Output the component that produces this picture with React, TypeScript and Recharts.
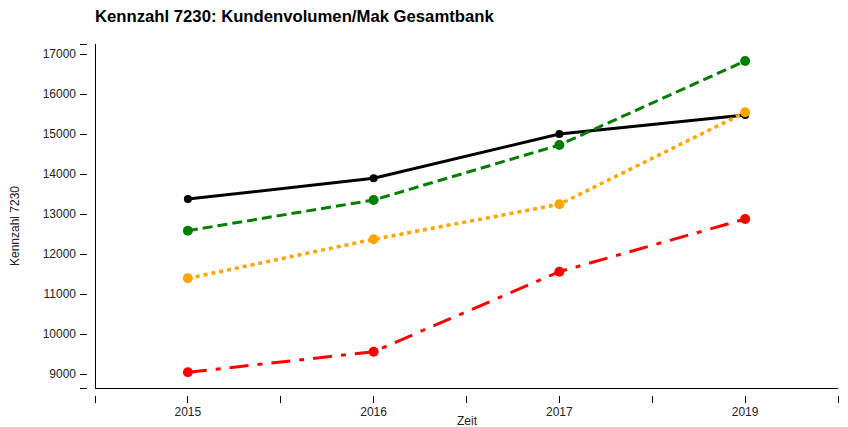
import { LineChart, Line, XAxis, YAxis } from 'recharts';

const years = ['2015', '2016', '2017', '2019'];
const gesamt = [13375, 13892, 15000, 15475];
const gruen = [12583, 13350, 14725, 16825];
const orange = [11392, 12367, 13242, 15542];
const rot = [9042, 9558, 11558, 12875];
const yTicks = [8650, 9000, 10000, 11000, 12000, 13000, 14000, 15000, 16000, 17000, 17250];

const data = years.map((y, i) => ({
    jahr: y,
    gesamt: gesamt[i],
    gruen: gruen[i],
    orange: orange[i],
    rot: rot[i],
}));

const W = 840;
const H = 419;
const LEFT = 87;
const RIGHT = 10;
const HALF_BAND = (W - LEFT - RIGHT) / years.length / 2;
const FONT = 'Arial, "Liberation Sans", sans-serif';

function XTick(props: any) {
    const { x, y, payload, index } = props;
    const last = index === years.length - 1;
    return (
        <g shapeRendering="crispEdges">
            <line x1={x - HALF_BAND} x2={x - HALF_BAND} y1={y} y2={y + 7} stroke="#000" />
            <line x1={x} x2={x} y1={y} y2={y + 7} stroke="#000" />
            {last && <line x1={x + HALF_BAND} x2={x + HALF_BAND} y1={y} y2={y + 7} stroke="#000" />}
            <text x={x} y={y + 20} textAnchor="middle" fontSize={12} fontFamily={FONT} fill="#222">
                {payload.value}
            </text>
        </g>
    );
}

function YTick(props: any) {
    const { x, y, payload } = props;
    const show = payload.value % 1000 === 0;
    return (
        <g shapeRendering="crispEdges">
            <line x1={x - 7} x2={x} y1={y} y2={y} stroke="#000" />
            {show && (
                <text x={x - 11} y={y} dy="0.35em" textAnchor="end" fontSize={12} fontFamily={FONT} fill="#222">
                    {payload.value}
                </text>
            )}
        </g>
    );
}

export default function App() {
    return (
        <div style={{ position: 'relative', width: W, height: H, fontFamily: FONT }}>
            <LineChart width={W} height={H} data={data} margin={{ top: 36, right: RIGHT, bottom: 0, left: 0 }}>
                <XAxis
                    dataKey="jahr"
                    height={39}
                    padding={{ left: HALF_BAND, right: HALF_BAND }}
                    axisLine={{ stroke: '#000', shapeRendering: 'crispEdges' }}
                    tickLine={false}
                    tick={<XTick />}
                    interval={0}
                />
                <YAxis
                    width={LEFT}
                    domain={[8650, 17250]}
                    ticks={yTicks}
                    type="number"
                    axisLine={{ stroke: '#000', shapeRendering: 'crispEdges' }}
                    tickLine={false}
                    tick={<YTick />}
                    interval={0}
                />
                <Line type="linear" dataKey="gesamt" stroke="#000" strokeWidth={3} dot={{ r: 4, fill: '#000', stroke: 'none' }} isAnimationActive={false} />
                <Line type="linear" dataKey="gruen" stroke="#008000" strokeWidth={3} strokeDasharray="10 5" dot={{ r: 5, fill: '#008000', stroke: 'none', strokeDasharray: '' }} isAnimationActive={false} />
                <Line type="linear" dataKey="orange" stroke="#FFA500" strokeWidth={3.5} strokeDasharray="4 4" dot={{ r: 5, fill: '#FFA500', stroke: 'none', strokeDasharray: '' }} isAnimationActive={false} />
                <Line type="linear" dataKey="rot" stroke="#FF0000" strokeWidth={3} strokeDasharray="19 9 5 9" dot={{ r: 5, fill: '#FF0000', stroke: 'none', strokeDasharray: '' }} isAnimationActive={false} />
            </LineChart>
            <div style={{ position: 'absolute', zIndex: 2, left: 87, top: 0, fontSize: 16.7, lineHeight: '17px', fontWeight: 'bold', color: '#000', whiteSpace: 'nowrap' }}>
                Kennzahl 7230: Kundenvolumen/Mak Gesamtbank
            </div>
            <div style={{ position: 'absolute', zIndex: 2, left: 7, top: 217.5, fontSize: 12, color: '#222', whiteSpace: 'nowrap', transform: 'translate(-50%, -50%) rotate(-90deg)' }}>
                Kennzahl 7230
            </div>
            <div style={{ position: 'absolute', zIndex: 2, left: 459, top: 413, fontSize: 12, color: '#222', whiteSpace: 'nowrap', transform: 'translate(-50%, -50%)' }}>
                Zeit
            </div>
        </div>
    );
}
